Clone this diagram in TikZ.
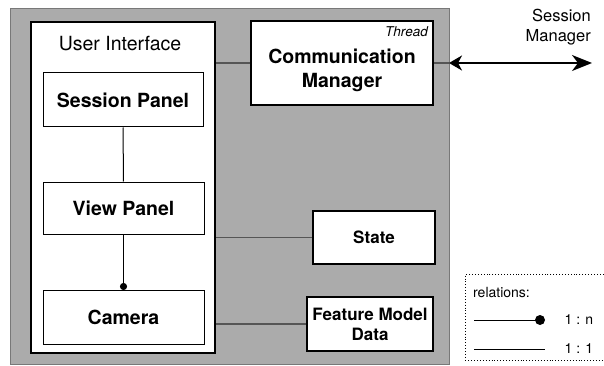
\documentclass[tikz,border=0pt]{standalone}
\usepackage{fontspec}
\setmainfont{TeX Gyre Heros}
\usetikzlibrary{arrows.meta}
\definecolor{bggray}{RGB}{171,171,171}
\definecolor{bgedge}{RGB}{120,120,120}
\definecolor{linegray}{RGB}{85,85,85}
\begin{document}
\begin{tikzpicture}[x=1pt,y=-1pt,
  box/.style={draw=black, fill=white, inner sep=0pt, align=center,
    font=\fontsize{19.5}{24}\selectfont\bfseries},
  thinbox/.style={box, line width=1pt},
  thickbox/.style={box, line width=2.2pt},
  label/.style={inner sep=0pt, align=center},
  link/.style={draw=linegray, line width=1.4pt},
  inner/.style={draw=black, line width=1pt},
  legtext/.style={inner sep=0pt, font=\fontsize{14}{16}\selectfont},
]
\useasboundingbox (0,0) rectangle (604,366);
% background region
\filldraw[fill=bggray, draw=bgedge, line width=0.8pt] (10,8) rectangle (449,364);

% User interface container
\node[thickbox, minimum width=184pt, minimum height=331pt] (ui) at (123,187.5) {};
\node[label, font=\fontsize{19.5}{24}\selectfont] (uitext) at (120,44) {User Interface};

\node[thinbox, minimum width=160pt, minimum height=54pt] (session) at (123,100) {Session Panel};
\node[thinbox, minimum width=161pt, minimum height=52pt] (view) at (123.5,208) {View Panel};
\node[thinbox, minimum width=161pt, minimum height=54pt] (camera) at (123.5,317) {Camera};

% right column
\node[thickbox, line width=2pt, minimum width=182pt, minimum height=84pt] (comm) at (342,63) {};
\node[label, font=\fontsize{19.5}{24}\selectfont\bfseries] (commtext) at (342,70) {Communication\\Manager};
\node[label, anchor=east, font=\fontsize{13.5}{16}\selectfont\itshape] (thread) at (428,32) {Thread};

\node[thickbox, line width=2pt, minimum width=122pt, minimum height=53pt,
  font=\fontsize{17}{20}\selectfont\bfseries] (state) at (374,237.5) {State};
\node[thickbox, line width=2.4pt, minimum width=126pt, minimum height=54pt,
  font=\fontsize{17}{20}\selectfont\bfseries] (fmd) at (370,324) {Feature Model\\Data};

% connectors inside UI
\draw[inner] (session) -- (view);
\draw[inner] (view) -- (camera.north);
\fill[black] (camera.north) ++(0,-3) circle (3.6pt);

% connectors from UI
\draw[link] (comm.west) -- (comm.west -| ui.east);
\draw[link] (state.west) -- (state.west -| ui.east);
\draw[link] (fmd.west) -- (fmd.west -| ui.east);

% external session manager
\coordinate (edge) at (449,63);
\coordinate (smend) at (592,63);
\draw[link] (comm.east) -- (edge);
\draw[line width=2pt, {Stealth[length=13pt,width=15pt,inset=4pt]}-{Stealth[length=20pt,width=16pt,inset=6pt]}] (edge) -- (smend);
\node[label, anchor=east, align=right, font=\fontsize{16.5}{20}\selectfont] (smtext) at (591,27) {Session\\Manager};

% legend
\node[draw=black, dotted, line width=0.9pt, minimum width=142pt, minimum height=86pt, anchor=north west, inner sep=0pt] (legend) at (465,274) {};
\node[legtext, anchor=west] (reltext) at (473,292) {relations:};
\coordinate (l1a) at (474,320);
\coordinate (l1b) at (540,320);
\draw[line width=1pt] (l1a) -- (l1b);
\fill (l1b) circle (5pt);
\node[legtext] (ln) at (579,320) {1 : n};
\coordinate (l2a) at (474,349);
\coordinate (l2b) at (545,349);
\draw[line width=1pt] (l2a) -- (l2b);
\node[legtext] (l1) at (579,349) {1 : 1};
\end{tikzpicture}
\end{document}
